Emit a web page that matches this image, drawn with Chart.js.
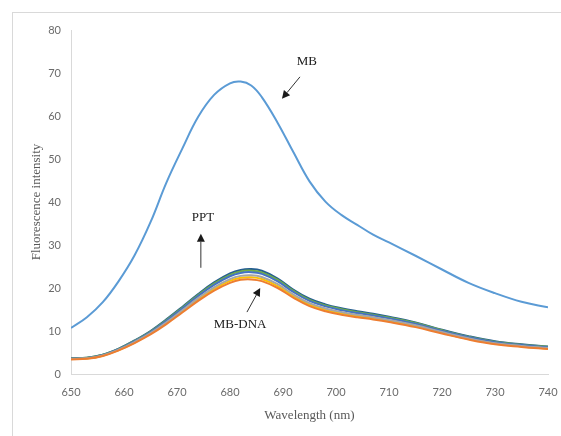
<!DOCTYPE html>
<html>
<head>
<meta charset="utf-8">
<script src="https://cdn.jsdelivr.net/npm/chart.js@4.4.1/dist/chart.umd.min.js"></script>
<style>
  html, body { margin: 0; padding: 0; background: #ffffff; }
  #wrap { width: 561px; height: 436px; position: relative; }
</style>
</head>
<body>
<div id="wrap"><canvas id="c" width="561" height="436"></canvas></div>
<script>
// ---- data ----
const wavelengths = [650,653,656,659,662,665,668,671,674,677,680,682,684,686,689,692,695,698,701,704,707,710,715,720,725,730,735,740];
const xTicks = [650,660,670,680,690,700,710,720,730,740];
const yTicks = [0,10,20,30,40,50,60,70,80];

const mb        = [10.7,13.2,16.7,21.6,27.6,35.3,44.5,52.4,59.8,64.9,67.6,68.0,67.1,64.4,58.4,51.5,44.8,40.1,37.0,34.7,32.4,30.6,27.5,24.3,21.2,18.8,16.8,15.5];
const dnaOrange = [3.4,3.55,4.2,5.5,7.2,9.2,11.6,14.3,17.0,19.4,21.2,21.9,22.0,21.6,20.0,17.7,15.8,14.6,13.8,13.2,12.7,12.1,10.9,9.4,8.0,6.9,6.3,5.8];
const dnaYellow = [3.46,3.6,4.26,5.58,7.32,9.36,11.82,14.56,17.32,19.78,21.64,22.36,22.48,22.08,20.44,18.08,16.14,14.92,14.1,13.48,12.96,12.34,11.12,9.58,8.16,7.04,6.42,5.92];
const dnaGray   = [3.52,3.65,4.32,5.66,7.44,9.52,12.04,14.82,17.64,20.16,22.08,22.82,22.96,22.56,20.88,18.46,16.48,15.24,14.4,13.76,13.22,12.58,11.34,9.76,8.32,7.18,6.54,6.04];
const dnaBlue   = [3.61,3.73,4.41,5.78,7.62,9.76,12.37,15.21,18.12,20.73,22.74,23.51,23.68,23.28,21.54,19.03,16.99,15.72,14.85,14.18,13.61,12.94,11.67,10.03,8.56,7.39,6.72,6.22];
const dnaGreen  = [3.66,3.76,4.46,5.84,7.71,9.88,12.54,15.41,18.36,21.02,23.07,23.86,24.04,23.64,21.87,19.32,17.25,15.96,15.08,14.39,13.81,13.12,11.84,10.17,8.68,7.5,6.81,6.31];
const dnaDark   = [3.7,3.8,4.5,5.9,7.8,10.0,12.7,15.6,18.6,21.3,23.4,24.2,24.4,24.0,22.2,19.6,17.5,16.2,15.3,14.6,14.0,13.3,12.0,10.3,8.8,7.6,6.9,6.4];

// annotations (data units): label position, arrow tail, arrow tip
const noteText   = ["MB", "PPT", "MB-DNA"];
const noteLabelX = [694.5, 674.9, 681.9];
const noteLabelY = [72.6, 36.3, 11.6];
const noteTailX  = [693.2, 674.5, 683.2];
const noteTailY  = [69.1, 24.7, 14.4];
const noteTipX   = [689.8, 674.5, 685.7];
const noteTipY   = [64.0, 32.6, 20.0];

function pts(vals) { return wavelengths.map((w, i) => ({ x: w, y: vals[i] })); }

const seriesList = [
  { label: 'MB', data: mb, color: '#5B9BD5' },
  { label: 'MB-DNA 1', data: dnaOrange, color: '#ED7D31' },
  { label: 'MB-DNA 2', data: dnaGray, color: '#A5A5A5' },
  { label: 'MB-DNA 3', data: dnaYellow, color: '#FFC000' },
  { label: 'MB-DNA 4', data: dnaBlue, color: '#4472C4' },
  { label: 'MB-DNA 5', data: dnaGreen, color: '#70AD47' },
  { label: 'MB-DNA 6', data: dnaDark, color: '#255E91' }
];

const frame = {
  id: 'frame',
  beforeDraw(chart) {
    const ctx = chart.ctx;
    ctx.save();
    ctx.fillStyle = '#ffffff';
    ctx.fillRect(0, 0, chart.width, chart.height);
    ctx.strokeStyle = '#d9d9d9';
    ctx.lineWidth = 1;
    ctx.strokeRect(12.5, 12.5, chart.width + 20, chart.height + 20);
    ctx.restore();
  }
};

function arrow(ctx, x1, y1, x2, y2) {
  const ang = Math.atan2(y2 - y1, x2 - x1);
  const hl = 8, hw = 4;
  const bx = x2 - hl * Math.cos(ang), by = y2 - hl * Math.sin(ang);
  ctx.beginPath();
  ctx.moveTo(x1, y1);
  ctx.lineTo(bx, by);
  ctx.stroke();
  ctx.beginPath();
  ctx.moveTo(x2, y2);
  ctx.lineTo(bx + hw * Math.sin(ang), by - hw * Math.cos(ang));
  ctx.lineTo(bx - hw * Math.sin(ang), by + hw * Math.cos(ang));
  ctx.closePath();
  ctx.fill();
}

const notes = {
  id: 'notes',
  afterDatasetsDraw(chart) {
    const ctx = chart.ctx, xs = chart.scales.x, ys = chart.scales.y;
    ctx.save();
    ctx.fillStyle = '#1a1a1a';
    ctx.strokeStyle = '#333333';
    ctx.lineWidth = 1;
    ctx.font = '13px "Liberation Serif", "Times New Roman", serif';
    ctx.textAlign = 'center';
    ctx.textBaseline = 'middle';
    for (let i = 0; i < noteText.length; i++) {
      ctx.fillText(noteText[i], xs.getPixelForValue(noteLabelX[i]), ys.getPixelForValue(noteLabelY[i]));
      arrow(ctx, xs.getPixelForValue(noteTailX[i]), ys.getPixelForValue(noteTailY[i]),
                 xs.getPixelForValue(noteTipX[i]), ys.getPixelForValue(noteTipY[i]));
    }
    ctx.restore();
  }
};

new Chart(document.getElementById('c'), {
  type: 'line',
  data: {
    datasets: seriesList.map(s => ({
      label: s.label,
      data: pts(s.data),
      borderColor: s.color,
      backgroundColor: s.color,
      borderWidth: 2,
      pointRadius: 0,
      tension: 0.4,
      fill: false
    }))
  },
  options: {
    responsive: false,
    animation: false,
    devicePixelRatio: 1,
    layout: { padding: { left: 0, top: 30, right: 13, bottom: 0 } },
    plugins: { legend: { display: false }, tooltip: { enabled: false } },
    scales: {
      x: {
        type: 'linear',
        min: 650, max: 740,
        afterBuildTicks(scale) { scale.ticks = xTicks.map(v => ({ value: v })); },
        afterFit(scale) { scale.height = 62; scale.paddingRight = 0; scale.paddingLeft = 0; },
        grid: { display: false, drawTicks: false },
        border: { display: true, color: '#d9d9d9', width: 1 },
        ticks: { padding: 12, color: '#6b6b6b', font: { family: 'Lato', size: 11 } },
        title: { display: true, text: 'Wavelength (nm)', color: '#595959',
                 font: { family: '"Liberation Serif", serif', size: 13 }, padding: { top: 0, bottom: 13 } }
      },
      y: {
        min: 0, max: 80,
        afterBuildTicks(scale) { scale.ticks = yTicks.map(v => ({ value: v })); },
        afterFit(scale) { scale.width = 71; scale.paddingTop = 0; scale.paddingBottom = 0; },
        grid: { display: false, drawTicks: false },
        border: { display: true, color: '#d9d9d9', width: 1 },
        ticks: { padding: 10, color: '#6b6b6b', font: { family: 'Lato', size: 11 } },
        title: { display: true, text: 'Fluorescence intensity', color: '#595959',
                 font: { family: '"Liberation Serif", serif', size: 13 }, padding: { top: 29, bottom: 0 } }
      }
    }
  },
  plugins: [frame, notes]
});
</script>
</body>
</html>
